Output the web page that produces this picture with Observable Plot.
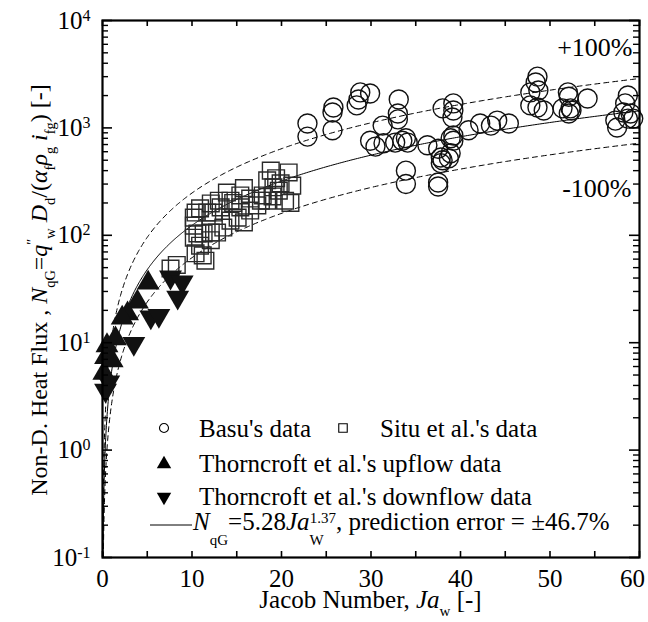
<!DOCTYPE html>
<html><head><meta charset="utf-8">
<script src="https://cdn.jsdelivr.net/npm/d3@7"></script>
<script src="https://cdn.jsdelivr.net/npm/@observablehq/plot@0.6"></script>
<style>body{margin:0;background:#fff} svg{display:block}</style>
</head><body><div id="chart"></div>
<script>
// ---- data ----
const basuJa = [22.9,22.9,25.8,25.7,25.7,28.8,29.9,28.4,28.6,33.1,33.0,33.0,31.3,29.9,30.5,31.4,32.7,33.9,34.1,33.5,33.9,33.9,38.0,39.2,39.2,39.1,36.3,37.5,37.8,38.0,37.8,38.9,38.7,39.2,39.2,38.9,40.9,42.2,43.4,44.1,45.4,37.5,37.5,47.8,47.8,48.6,48.4,48.7,49.3,48.6,52.0,52.1,54.2,51.4,52.3,52.1,52.4,58.7,58.4,58.2,59.0,57.3,57.5,59.3,58.7];
const basuN  = [1100,830,1550,1390,950,2140,2090,1620,1840,1840,1360,1200,1050,760,670,720,730,800,730,760,400,300,1520,1690,1450,1250,690,640,530,500,470,580,520,850,760,800,950,1100,1050,1170,1100,310,285,2140,1620,3000,2650,2230,1450,1550,2140,1950,1880,1520,1520,1360,1450,2000,1690,1390,1360,1170,1010,1220,1220];

const situJa = [18.8,20.8,21.2,21.0,18.4,19.4,19.1,19.9,15.8,16.5,17.7,18.4,17.9,19.0,14.6,15.4,14.3,13.0,12.1,13.2,12.4,10.9,10.4,11.7,15.1,15.8,14.3,13.5,12.8,12.1,11.3,10.6,12.1,10.9,11.5,10.2,10.2,10.2,8.3,7.6,11.2,10.4,13.9,16.5,17.3,15.4,20.4,19.7];
const situN  = [400,385,290,200,325,340,280,305,275,220,210,210,235,230,200,182,210,210,198,182,163,178,163,163,146,132,137,118,106,106,104,104,90,80,58,146,123,95,53,49,65,68,250,170,190,235,210,260];

const upJa = [5.1,3.9,2.8,2.2,1.45,0.5,0.34,1.08,0.15];
const upN  = [36,24,18.6,17,10.9,9.4,7.3,6.8,5.2];

const downJa = [7.6,8.9,8.4,5.4,6.3,3.5,0.7,0.34];
const downN  = [40.7,36.6,26.5,17.3,17.9,9.8,4.3,3.6];

// correlation stated in the legend: N = 5.28 Ja^1.37, band = x2 / x0.5
const fitCoef = 5.28, fitExp = 1.37;
const bandUp = 2, bandDown = 0.5;

const xTickValues = [0,10,20,30,40,50,60];
const xMinorValues = [5,15,25,35,45,55];
const yTickValues = [0.1,1,10,100,1000,10000];
const yMinorMult = [2,3,4,5,6,7,8,9];

const legendLabels = ["Basu's data","Situ et al.'s data","Thorncroft et al.'s upflow data","Thorncroft et al.'s downflow data"];

// ---- layout ----
const W = 648, H = 622, mL = 102, mR = 9, mT = 20, mB = 65;
const pw = W - mL - mR, ph = H - mT - mB;
const FONT = "'Liberation Serif','Times New Roman',Times,serif";

const toRows = (xs, ys) => xs.map((x, i) => ({x, y: ys[i]}));
const basu = toRows(basuJa, basuN), situ = toRows(situJa, situN);
const up = toRows(upJa, upN), down = toRows(downJa, downN);

const curveJa = d3.range(1, 400).map(i => 60 * Math.pow(i / 399, 2));
const curve = k => curveJa.map(x => ({x, y: k * fitCoef * Math.pow(x, fitExp)}));

const yMinor = yTickValues.slice(0, -1).flatMap(d => yMinorMult.map(m => d * m));

const sqrt3 = Math.sqrt(3);
const downTri = {draw(ctx, size) {
  const y = -Math.sqrt(size / (sqrt3 * 3));
  ctx.moveTo(0, -y * 2); ctx.lineTo(-sqrt3 * y, y); ctx.lineTo(sqrt3 * y, y); ctx.closePath();
}};

const plot = Plot.plot({
  width: W, height: H, marginLeft: mL, marginRight: mR, marginTop: mT, marginBottom: mB,
  style: {fontFamily: FONT, background: "white", color: "black"},
  x: {domain: [0, 60]},
  y: {type: "log", domain: [0.1, 10000]},
  marks: [
    Plot.line(curve(1), {x: "x", y: "y", stroke: "black", strokeWidth: 1, clip: true}),
    Plot.line(curve(bandUp), {x: "x", y: "y", stroke: "black", strokeWidth: 1, strokeDasharray: "5,4", clip: true}),
    Plot.line(curve(bandDown), {x: "x", y: "y", stroke: "black", strokeWidth: 1, strokeDasharray: "5,4", clip: true}),
    Plot.dot(situ, {x: "x", y: "y", symbol: "square", r: 9.4, stroke: "#2a2a2a", strokeWidth: 1.4, fill: "none"}),
    Plot.dot(basu, {x: "x", y: "y", symbol: "circle", r: 9.5, stroke: "#111", strokeWidth: 1.4, fill: "none"}),
    Plot.dot(up, {x: "x", y: "y", symbol: "triangle", r: 8.5, fill: "#111", stroke: "none"}),
    Plot.dot(down, {x: "x", y: "y", symbol: downTri, r: 8.5, fill: "#111", stroke: "none"}),
    Plot.frame({stroke: "black", strokeWidth: 2.2}),
    // inward ticks, all four sides
    Plot.tickX(xTickValues.concat(xMinorValues), {x: d => d, insetTop: ph - 6, stroke: "black", strokeWidth: 1.6}),
    Plot.tickX(xTickValues.concat(xMinorValues), {x: d => d, insetBottom: ph - 6, stroke: "black", strokeWidth: 1.6}),
    Plot.tickY(yTickValues, {y: d => d, insetRight: pw - 10, stroke: "black", strokeWidth: 1.6}),
    Plot.tickY(yTickValues, {y: d => d, insetLeft: pw - 10, stroke: "black", strokeWidth: 1.6}),
    Plot.tickY(yMinor, {y: d => d, insetRight: pw - 6, stroke: "black", strokeWidth: 1.4}),
    Plot.tickY(yMinor, {y: d => d, insetLeft: pw - 6, stroke: "black", strokeWidth: 1.4}),
    Plot.axisX({ticks: xTickValues, tickSize: 0, tickPadding: 12, fontSize: 25, label: null, tickFormat: d => String(d)}),
    Plot.axisY({ticks: yTickValues, tickSize: 0, tickPadding: 12, fontSize: 25, label: null,
      tickFormat: d => "10^" + Math.round(Math.log10(d))}),
    Plot.text(["+100%"], {x: 60, y: 10000, text: d => d, dx: -7, dy: 27, textAnchor: "end", fontSize: 26, lineAnchor: "middle"}),
    Plot.text(["-100%"], {x: 60, y: 10000, text: d => d, dx: -8, dy: 168, textAnchor: "end", fontSize: 26, lineAnchor: "middle"})
  ]
});
document.getElementById("chart").appendChild(plot);
const svg = d3.select(plot);

// superscript tick labels
svg.selectAll('g[aria-label="y-axis tick label"] text').each(function() {
  const t = d3.select(this); const s = t.text();
  if (!s.startsWith("10^")) return;
  const e = s.slice(3);
  t.text(null);
  t.append("tspan").text("10");
  t.append("tspan").attr("dy", "-0.5em").attr("font-size", "16px").text(e);
});
// last x label sits a little left of its tick, as in the reference
const xLabs = svg.selectAll('g[aria-label="x-axis tick label"] text').nodes();
if (xLabs.length) d3.select(xLabs[xLabs.length - 1]).attr("dx", -7);

// rich text helper: segments [text, italic, shift(-1 sub, 1 sup), dx]
function rich(sel, segs, fs, subDrop, supRise) {
  let cur = 0;
  segs.forEach(([txt, it, sh, dx]) => {
    const target = sh === 1 ? -supRise : sh === -1 ? subDrop : 0;
    const ts = sel.append("tspan").text(txt)
      .attr("dy", target - cur)
      .attr("font-size", sh ? fs * 0.6 : fs)
      .attr("font-style", it ? "italic" : "normal");
    if (dx) ts.attr("dx", dx);
    cur = target;
  });
}

// x label
const xl = svg.append("text").attr("x", mL + pw / 2).attr("y", 608).attr("text-anchor", "middle")
  .attr("font-family", FONT).attr("font-size", 25).attr("fill", "black");
rich(xl, [["Jacob Number, ",0,0],["Ja",1,0],["w",0,-1],[" [-]",0,0]], 25, 8, 8);

// y label
const yl = svg.append("text").attr("transform", "translate(47,290) rotate(-90)")
  .attr("text-anchor", "middle").attr("font-family", FONT).attr("font-size", 24).attr("fill", "black");
rich(yl, [["Non-D. Heat Flux , ",0,0],["N",1,0],["qG",0,-1],["=",0,0],["q",1,0],["\u2033",0,1],["w",0,-1],[" ",0,0],
  ["D",1,0],["d",0,-1],["/(",0,0],["\u03b1",1,0],["f",0,-1],["\u03c1",1,0],["g",0,-1],[" ",0,0],["i",1,0],["fg",0,-1],[") [-]",0,0]], 24, 8, 10);

// legend
const lg = svg.append("g").attr("font-family", FONT).attr("font-size", 25).attr("fill", "black").attr("text-anchor", "start");
const sym = (type, size) => d3.symbol().type(type).size(size)();
lg.append("path").attr("d", sym(d3.symbolCircle, 64)).attr("transform", "translate(164,428)").attr("fill", "none").attr("stroke", "black").attr("stroke-width", 1.1);
lg.append("text").attr("x", 199).attr("y", 436.5).text(legendLabels[0]);
lg.append("path").attr("d", sym(d3.symbolSquare, 72)).attr("transform", "translate(343,428)").attr("fill", "none").attr("stroke", "black").attr("stroke-width", 1.1);
lg.append("text").attr("x", 380).attr("y", 436.5).text(legendLabels[1]);
lg.append("path").attr("d", sym(d3.symbolTriangle, 90)).attr("transform", "translate(164,464)").attr("fill", "black");
lg.append("text").attr("x", 199).attr("y", 471.5).text(legendLabels[2]);
lg.append("path").attr("d", sym(downTri, 90)).attr("transform", "translate(164,497)").attr("fill", "black");
lg.append("text").attr("x", 199).attr("y", 505).text(legendLabels[3]);
lg.append("line").attr("x1", 150).attr("x2", 192).attr("y1", 525).attr("y2", 525).attr("stroke", "black").attr("stroke-width", 1);
const ft = lg.append("text").attr("x", 193).attr("y", 530);
rich(ft, [["N",1,0],["qG",0,-1],["=5.28",0,0],["Ja",1,0],["W",0,-1],["1.37",0,1,-14],[", prediction error = \u00b146.7%",0,0]], 25, 15, 7);
</script>
</body></html>
